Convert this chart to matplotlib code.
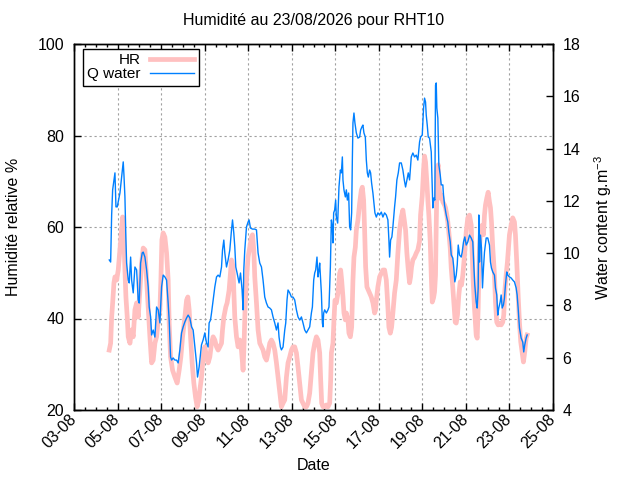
import numpy as np
import matplotlib
matplotlib.use('Agg')
import matplotlib.pyplot as plt
import matplotlib.dates as mdates
from datetime import datetime

plt.rcParams['font.family'] = ['Liberation Sans', 'DejaVu Sans']
plt.rcParams['mathtext.default'] = 'regular'

# time origin of the x axis, offsets below are in days
start = datetime(2026, 8, 3)

# relative humidity (%) : (day offset, value)
hr_points = [
    (1.619, 33.1), (1.683, 34.6), (1.729, 40.3), (1.775, 43.4), (1.835, 47.8), (1.881, 49.1),
    (1.959, 48.4), (2.032, 50.6), (2.110, 55.0), (2.188, 59.3), (2.234, 62.2), (2.261, 61.5),
    (2.294, 57.2), (2.339, 50.6), (2.385, 44.7), (2.445, 40.3), (2.491, 36.0), (2.569, 34.6),
    (2.647, 37.5), (2.720, 36.0), (2.798, 41.9), (2.876, 43.4), (2.949, 40.3), (3.027, 46.2),
    (3.105, 52.1), (3.179, 55.4), (3.257, 55.0), (3.335, 48.4), (3.408, 42.5), (3.486, 36.0),
    (3.564, 30.3), (3.637, 30.9), (3.716, 34.6), (3.793, 36.0), (3.867, 39.7), (3.945, 41.9),
    (3.991, 48.4), (4.037, 57.2), (4.096, 58.7), (4.174, 57.8), (4.252, 54.3), (4.325, 48.4),
    (4.371, 39.0), (4.436, 31.6), (4.527, 28.7), (4.633, 27.2), (4.738, 25.9), (4.830, 28.7),
    (4.908, 31.6), (4.986, 36.0), (5.092, 40.3), (5.170, 44.0), (5.229, 44.7), (5.289, 41.9),
    (5.353, 36.0), (5.426, 30.3), (5.504, 25.9), (5.582, 22.8), (5.656, 20.7), (5.734, 22.2),
    (5.780, 24.4), (5.858, 27.2), (5.931, 31.6), (6.009, 33.8), (6.087, 31.6), (6.160, 30.3),
    (6.238, 31.6), (6.316, 34.6), (6.390, 36.0), (6.468, 35.3), (6.546, 33.8), (6.619, 33.1),
    (6.697, 33.8), (6.775, 34.6), (6.821, 37.5), (6.881, 40.3), (6.972, 42.5), (7.032, 43.4),
    (7.124, 46.2), (7.188, 49.9), (7.234, 52.8), (7.307, 51.3), (7.339, 46.2), (7.385, 40.3),
    (7.463, 36.0), (7.537, 33.8), (7.614, 35.3), (7.692, 33.1), (7.766, 28.7), (7.812, 34.6),
    (7.858, 42.5), (7.922, 48.4), (7.995, 53.4), (8.073, 55.6), (8.151, 57.8), (8.197, 58.3),
    (8.257, 55.0), (8.302, 49.1), (8.381, 43.4), (8.454, 37.5), (8.532, 34.6), (8.610, 33.8),
    (8.683, 33.1), (8.761, 31.6), (8.839, 30.9), (8.913, 32.5), (8.991, 34.6), (9.068, 35.3),
    (9.142, 34.6), (9.220, 33.1), (9.298, 30.3), (9.371, 27.2), (9.449, 23.7), (9.527, 20.7),
    (9.601, 21.5), (9.679, 22.2), (9.757, 27.2), (9.830, 30.3), (9.908, 31.6), (9.986, 33.1),
    (10.059, 33.8), (10.137, 33.8), (10.215, 32.5), (10.289, 29.4), (10.367, 25.9), (10.445, 22.2),
    (10.518, 21.5), (10.596, 20.7), (10.674, 20.7), (10.747, 21.5), (10.825, 23.7), (10.903, 28.1),
    (10.977, 32.5), (11.055, 34.6), (11.133, 36.0), (11.206, 35.3), (11.284, 32.5), (11.330, 26.6),
    (11.376, 21.5), (11.435, 20.7), (11.513, 20.7), (11.591, 21.1), (11.665, 20.7), (11.743, 21.5),
    (11.789, 26.6), (11.821, 32.5), (11.894, 34.6), (11.940, 39.7), (11.986, 44.0), (12.050, 43.4),
    (12.124, 45.6), (12.201, 49.9), (12.247, 50.6), (12.293, 48.4), (12.353, 44.7), (12.399, 41.2),
    (12.463, 39.7), (12.509, 41.2), (12.582, 39.7), (12.628, 36.8), (12.692, 36.0), (12.752, 38.1),
    (12.812, 48.4), (12.858, 53.4), (12.922, 55.6), (12.967, 59.3), (13.041, 61.5), (13.119, 65.2),
    (13.197, 68.1), (13.243, 68.7), (13.302, 65.9), (13.348, 59.3), (13.394, 51.3), (13.454, 46.9),
    (13.518, 46.2), (13.577, 45.6), (13.655, 44.7), (13.729, 43.4), (13.807, 41.2), (13.853, 41.9),
    (13.885, 44.0), (13.958, 46.9), (14.036, 49.1), (14.114, 49.9), (14.188, 50.6), (14.266, 50.6),
    (14.344, 48.4), (14.417, 42.5), (14.463, 38.1), (14.527, 36.8), (14.587, 38.1), (14.646, 41.2),
    (14.724, 45.6), (14.802, 48.4), (14.876, 54.3), (14.954, 59.3), (15.032, 62.2), (15.105, 63.7),
    (15.170, 61.5), (15.229, 59.3), (15.289, 54.3), (15.353, 50.6), (15.412, 47.8), (15.458, 49.1),
    (15.504, 51.3), (15.564, 52.8), (15.642, 53.4), (15.720, 54.3), (15.793, 55.0), (15.871, 56.9),
    (15.917, 62.6), (15.995, 66.8), (16.055, 72.5), (16.100, 75.5), (16.146, 74.2), (16.206, 69.8),
    (16.252, 65.9), (16.298, 62.6), (16.362, 56.7), (16.408, 49.5), (16.454, 43.6), (16.513, 44.5),
    (16.559, 45.8), (16.605, 49.5), (16.637, 60.4), (16.683, 72.9), (16.729, 73.6), (16.757, 69.2),
    (16.821, 66.3), (16.881, 67.0), (16.940, 65.5), (17.018, 64.8), (17.064, 64.2), (17.124, 62.6),
    (17.169, 61.1), (17.215, 58.9), (17.280, 55.4), (17.326, 51.0), (17.399, 46.7), (17.463, 42.3),
    (17.509, 39.2), (17.555, 39.0), (17.614, 40.8), (17.674, 45.1), (17.738, 48.0), (17.798, 47.3),
    (17.858, 49.5), (17.936, 53.9), (18.014, 58.9), (18.087, 62.0), (18.165, 62.6), (18.243, 60.4),
    (18.289, 54.5), (18.335, 48.0), (18.394, 42.3), (18.472, 36.4), (18.518, 35.7), (18.564, 42.3),
    (18.592, 49.5), (18.624, 55.4), (18.683, 59.8), (18.747, 60.4), (18.807, 58.3), (18.853, 62.6),
    (18.899, 64.8), (18.958, 66.3), (19.022, 67.6), (19.082, 65.5), (19.128, 64.2), (19.174, 61.1),
    (19.234, 55.4), (19.312, 49.5), (19.358, 43.6), (19.417, 39.2), (19.481, 38.6), (19.541, 39.0),
    (19.619, 38.6), (19.692, 39.2), (19.738, 40.8), (19.784, 45.8), (19.848, 49.5), (19.908, 52.4),
    (19.954, 55.4), (20.000, 58.3), (20.078, 60.4), (20.151, 62.0), (20.229, 61.1), (20.275, 58.3),
    (20.334, 52.4), (20.399, 45.1), (20.459, 39.2), (20.518, 34.9), (20.582, 32.7), (20.642, 30.5),
    (20.702, 32.7), (20.766, 35.7), (20.812, 36.4),
]

# water content (g.m-3) : (day offset, value)
q_points = [
    (1.619, 9.74), (1.683, 9.66), (1.729, 11.46), (1.775, 12.42), (1.835, 12.80), (1.881, 13.07),
    (1.927, 11.77), (1.986, 11.77), (2.032, 11.96), (2.110, 12.30), (2.188, 12.91), (2.234, 13.30),
    (2.261, 13.49), (2.294, 12.99), (2.339, 12.15), (2.385, 10.50), (2.417, 9.62), (2.491, 8.97),
    (2.537, 8.86), (2.601, 9.85), (2.647, 8.97), (2.720, 8.48), (2.798, 9.47), (2.876, 9.36),
    (2.949, 8.21), (2.995, 8.09), (3.060, 9.62), (3.133, 10.01), (3.179, 10.04), (3.257, 9.85),
    (3.335, 9.36), (3.408, 8.71), (3.454, 7.94), (3.518, 7.56), (3.564, 6.87), (3.637, 7.06),
    (3.716, 6.79), (3.793, 7.94), (3.867, 7.83), (3.945, 7.33), (4.023, 8.71), (4.096, 9.16),
    (4.174, 9.09), (4.252, 8.97), (4.325, 8.09), (4.371, 7.44), (4.436, 6.03), (4.482, 5.91),
    (4.555, 5.99), (4.633, 5.91), (4.711, 5.91), (4.784, 5.80), (4.862, 6.30), (4.940, 6.95),
    (5.014, 7.18), (5.092, 7.37), (5.170, 7.52), (5.243, 7.63), (5.321, 7.52), (5.399, 7.18),
    (5.472, 7.06), (5.550, 6.41), (5.628, 5.80), (5.674, 5.26), (5.748, 5.65), (5.855, 6.49),
    (5.931, 6.68), (6.009, 6.95), (6.087, 6.56), (6.160, 6.41), (6.206, 7.33), (6.270, 7.44),
    (6.316, 7.71), (6.390, 8.21), (6.468, 8.71), (6.546, 9.09), (6.619, 9.16), (6.697, 9.09),
    (6.775, 9.47), (6.821, 10.12), (6.881, 10.50), (6.926, 10.01), (7.004, 9.47), (7.078, 9.74),
    (7.156, 10.12), (7.234, 10.89), (7.280, 11.27), (7.339, 10.77), (7.385, 10.24), (7.431, 9.47),
    (7.491, 9.24), (7.582, 8.86), (7.647, 9.24), (7.720, 8.59), (7.766, 7.83), (7.798, 9.36),
    (7.844, 10.12), (7.922, 11.00), (7.995, 11.19), (8.041, 11.27), (8.105, 10.96), (8.197, 10.92),
    (8.302, 10.92), (8.381, 10.89), (8.454, 10.01), (8.532, 9.62), (8.610, 9.47), (8.683, 8.97),
    (8.761, 8.32), (8.839, 8.09), (8.913, 7.94), (8.991, 7.90), (9.068, 7.83), (9.142, 7.56),
    (9.220, 7.33), (9.298, 7.06), (9.371, 7.33), (9.417, 6.79), (9.481, 6.41), (9.527, 6.30),
    (9.601, 6.41), (9.679, 7.06), (9.725, 7.33), (9.784, 8.21), (9.830, 8.59), (9.908, 8.48),
    (9.986, 8.32), (10.059, 8.32), (10.137, 8.21), (10.215, 7.83), (10.289, 7.56), (10.367, 7.44),
    (10.445, 7.56), (10.518, 7.33), (10.596, 7.06), (10.674, 6.95), (10.747, 7.06), (10.825, 7.18),
    (10.903, 7.71), (10.949, 7.94), (11.009, 8.97), (11.055, 9.24), (11.101, 9.36), (11.160, 9.85),
    (11.206, 9.09), (11.252, 9.36), (11.284, 9.62), (11.330, 8.97), (11.362, 8.48), (11.408, 7.33),
    (11.435, 7.18), (11.468, 7.71), (11.513, 7.83), (11.591, 7.71), (11.665, 7.83), (11.711, 7.94),
    (11.775, 9.47), (11.821, 11.27), (11.867, 11.00), (11.894, 10.39), (11.926, 11.54), (11.972, 11.65),
    (12.018, 12.03), (12.050, 11.38), (12.110, 11.15), (12.170, 12.53), (12.234, 13.18), (12.280, 13.07),
    (12.325, 13.68), (12.353, 12.80), (12.399, 12.42), (12.463, 12.15), (12.509, 12.42), (12.555, 12.03),
    (12.614, 12.30), (12.660, 11.00), (12.706, 10.89), (12.752, 11.54), (12.784, 13.56), (12.812, 14.98),
    (12.858, 15.36), (12.903, 14.98), (12.967, 14.60), (13.041, 14.40), (13.119, 14.44), (13.165, 14.71),
    (13.224, 14.83), (13.270, 14.90), (13.316, 14.60), (13.380, 14.44), (13.426, 13.56), (13.472, 13.07),
    (13.518, 12.91), (13.577, 13.18), (13.623, 13.07), (13.669, 12.68), (13.729, 12.30), (13.775, 11.92),
    (13.821, 11.54), (13.885, 11.38), (13.958, 11.54), (14.036, 11.46), (14.114, 11.57), (14.188, 11.38),
    (14.266, 11.54), (14.344, 11.46), (14.417, 11.27), (14.463, 10.50), (14.495, 9.85), (14.541, 10.50),
    (14.600, 10.62), (14.646, 11.00), (14.724, 11.77), (14.770, 12.15), (14.830, 12.80), (14.894, 13.07),
    (14.954, 13.45), (15.032, 13.45), (15.105, 13.18), (15.170, 12.80), (15.229, 12.53), (15.289, 12.80),
    (15.353, 13.07), (15.412, 12.80), (15.490, 13.68), (15.564, 13.83), (15.642, 13.68), (15.720, 13.75),
    (15.793, 13.56), (15.871, 14.25), (15.917, 14.44), (15.995, 14.52), (16.055, 15.55), (16.100, 15.93),
    (16.146, 15.78), (16.178, 15.28), (16.224, 14.90), (16.270, 14.44), (16.330, 14.40), (16.408, 13.87),
    (16.454, 12.49), (16.481, 11.73), (16.527, 12.11), (16.573, 12.03), (16.605, 16.43), (16.637, 16.51),
    (16.665, 15.55), (16.711, 15.17), (16.757, 13.37), (16.821, 12.99), (16.867, 12.61), (16.940, 12.61),
    (16.972, 12.22), (17.018, 11.84), (17.096, 11.46), (17.169, 11.19), (17.215, 10.81), (17.280, 10.43),
    (17.326, 9.93), (17.399, 9.81), (17.445, 9.43), (17.491, 8.90), (17.555, 9.16), (17.601, 9.55),
    (17.647, 10.31), (17.707, 9.93), (17.784, 9.85), (17.830, 10.04), (17.890, 10.43), (17.950, 10.62),
    (18.014, 10.31), (18.087, 10.43), (18.165, 10.69), (18.243, 10.58), (18.316, 10.43), (18.362, 9.55),
    (18.408, 8.78), (18.472, 8.13), (18.518, 7.90), (18.564, 8.67), (18.592, 11.46), (18.624, 9.66),
    (18.669, 10.69), (18.715, 10.20), (18.761, 8.67), (18.807, 9.43), (18.853, 10.04), (18.931, 10.58),
    (19.004, 10.58), (19.082, 10.31), (19.128, 9.66), (19.174, 9.43), (19.234, 9.28), (19.312, 9.16),
    (19.358, 8.67), (19.417, 8.40), (19.463, 7.63), (19.509, 7.90), (19.573, 8.13), (19.619, 8.40),
    (19.665, 7.90), (19.724, 8.02), (19.770, 8.28), (19.816, 8.78), (19.876, 9.28), (19.922, 9.16),
    (20.000, 9.09), (20.078, 9.05), (20.151, 8.97), (20.229, 8.90), (20.307, 8.67), (20.353, 8.40),
    (20.399, 7.90), (20.459, 7.14), (20.537, 6.75), (20.610, 6.60), (20.656, 6.22), (20.702, 6.49),
    (20.766, 6.75), (20.812, 6.87),
]

title = 'Humidité au 23/08/2026 pour RHT10'
hr_ticks = [20, 40, 60, 80, 100]
q_ticks = [4, 6, 8, 10, 12, 14, 16, 18]

base = mdates.date2num(start)
hr_x = base + np.array([p[0] for p in hr_points])
hr_y = np.array([p[1] for p in hr_points])
q_x = base + np.array([p[0] for p in q_points])
q_y = np.array([p[1] for p in q_points])

fs = 11.5
fig = plt.figure(figsize=(6.4, 4.8), dpi=100)
ax = fig.add_axes([74 / 640, 70 / 480, 479 / 640, 366 / 480])
ax2 = ax.twinx()

hr_line, = ax.plot(hr_x, hr_y, color='#ffc0c0', lw=3.4, label='HR')
q_line, = ax2.plot(q_x, q_y, color='#0080ff', lw=1.0, label='Q water')

ax.set_xlim(base, base + 22)
ax.set_ylim(20, 100)
ax2.set_ylim(4, 18)
ax.set_yticks(hr_ticks)
ax2.set_yticks(q_ticks)

ax.xaxis.set_major_locator(matplotlib.ticker.FixedLocator(base + np.arange(0, 23, 2)))
ax.xaxis.set_minor_locator(matplotlib.ticker.FixedLocator(base + np.arange(0, 22.01, 0.5)))
ax.xaxis.set_major_formatter(mdates.DateFormatter('%d-%m'))

ax.grid(True, which='major', color='#a0a0a0', ls=(0, (2, 2.5)), lw=0.8)
ax.tick_params(axis='x', which='both', direction='in', top=True, bottom=True, labelsize=fs, pad=5)
ax.tick_params(axis='x', which='major', length=5, width=1)
ax.tick_params(axis='x', which='minor', length=2.5, width=1)
ax.tick_params(axis='y', direction='in', left=True, right=False, length=5, width=1, labelsize=fs, pad=7)
ax2.tick_params(axis='y', direction='in', right=True, length=5, width=1, labelsize=fs, pad=7)

for lbl in ax.get_xticklabels():
    lbl.set_rotation(45)
    lbl.set_ha('right')
    lbl.set_va('center')
    lbl.set_rotation_mode('anchor')

for a in (ax, ax2):
    for s in a.spines.values():
        s.set_linewidth(1)
        s.set_color('black')

ax.set_ylabel('Humidité relative %', fontsize=fs)
ax.yaxis.set_label_coords(-0.11, 0.5)
ax2.set_ylabel('Water content g.m$^{-3}$', fontsize=fs)
ax2.yaxis.set_label_coords(1.082, 0.5)

fig.text(313.5 / 640, 1 - 20 / 480, title, ha='center', va='center', fontsize=fs)
fig.text(313.5 / 640, 1 - 466 / 480, 'Date', ha='center', va='center', fontsize=fs)

leg = ax2.legend([hr_line, q_line], ['HR', 'Q water'], loc='upper left',
                 bbox_to_anchor=(0.018, 0.987), borderaxespad=0, markerfirst=False,
                 fancybox=False, edgecolor='black', framealpha=1, fontsize=11,
                 handlelength=2.9, handletextpad=0.6, borderpad=0.3, labelspacing=0.0)
leg.get_frame().set_linewidth(1)

fig.savefig('out.png', dpi=100)
